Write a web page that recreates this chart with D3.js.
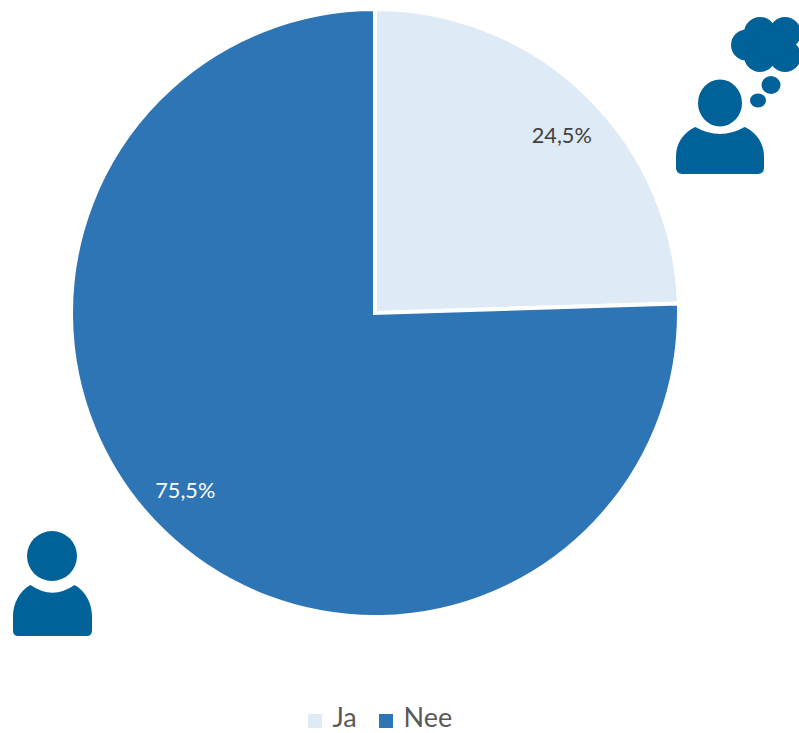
<!DOCTYPE html>
<html>
<head>
  <meta charset='utf-8'>
  <title>Ja / Nee</title>
  <script src="https://cdnjs.cloudflare.com/ajax/libs/d3/7.8.5/d3.min.js"></script>
  <style>
    html, body { margin: 0; padding: 0; background: #fff; }
    svg { display: block; }
    text { font-family: Lato, "Open Sans", sans-serif; }
  </style>
</head>
<body>
  <svg width="799" height="733" id="mySVG"></svg>
  <script>
    const categories = ['Ja', 'Nee'];
    const values = [24.5, 75.5];
    const labels = ['24,5%', '75,5%'];
    const colors = ['#DEEAF6', '#2E75B6'];
    const labelColors = ['#404040', '#ffffff'];

    const svg = d3.select('#mySVG');
    const cx = 375, cy = 313, radius = 304;
    const iconColor = '#006298';

    const pie = d3.pie().sort(null).value(d => d);
    const arc = d3.arc().innerRadius(0).outerRadius(radius);
    const slices = pie(values);

    const chart = svg.append('g').attr('transform', `translate(${cx},${cy})`);

    chart.selectAll('path')
      .data(slices)
      .join('path')
      .attr('d', arc)
      .attr('fill', (d, i) => colors[i])
      .attr('stroke', '#fff')
      .attr('stroke-width', 4)
      .attr('stroke-linejoin', 'miter');

    // labels sit a bit past the middle of the slice
    chart.selectAll('text')
      .data(slices)
      .join('text')
      .attr('transform', d => {
        const mid = (d.startAngle + d.endAngle) / 2 + 0.044;
        const p = d3.pointRadial(mid, 259);
        return `translate(${p[0] - 1.5},${p[1]})`;
      })
      .attr('text-anchor', 'middle')
      .attr('dy', '0.35em')
      .attr('font-size', 21.7)
      .attr('fill', (d, i) => labelColors[i])
      .text((d, i) => labels[i]);

    // legend
    const legendX = [308, 379];
    const legend = svg.append('g');
    legend.selectAll('rect')
      .data(categories)
      .join('rect')
      .attr('x', (d, i) => legendX[i])
      .attr('y', 714)
      .attr('width', 14)
      .attr('height', 14)
      .attr('fill', (d, i) => colors[i]);
    legend.selectAll('text')
      .data(categories)
      .join('text')
      .attr('x', (d, i) => legendX[i] + 24.5)
      .attr('y', 727)
      .attr('font-size', 27)
      .attr('fill', '#595959')
      .text(d => d);

    // person icon, x0..x1 is the body width, y0..y1 the body height
    function person(g, x0, x1, y0, y1) {
      const w = x1 - x0, h = y1 - y0, mx = (x0 + x1) / 2, r = w * 0.07;
      const path = d3.path();
      path.moveTo(mx - w * 0.28, y0);
      path.quadraticCurveTo(mx, y0 + h * 0.3, mx + w * 0.28, y0);
      path.bezierCurveTo(mx + w * 0.42, y0 + h * 0.12, x1, y0 + h * 0.36, x1, y0 + h * 0.62);
      path.lineTo(x1, y1 - r);
      path.quadraticCurveTo(x1, y1, x1 - r, y1);
      path.lineTo(x0 + r, y1);
      path.quadraticCurveTo(x0, y1, x0, y1 - r);
      path.lineTo(x0, y0 + h * 0.62);
      path.bezierCurveTo(x0, y0 + h * 0.36, mx - w * 0.42, y0 + h * 0.12, mx - w * 0.28, y0);
      path.closePath();
      g.append('path').attr('d', path.toString()).attr('fill', iconColor);
    }

    const icons = svg.append('g').attr('fill', iconColor);

    // bottom left person
    icons.append('circle').attr('cx', 52).attr('cy', 556).attr('r', 25);
    person(icons, 13, 92, 585, 636);

    // top right person with thought cloud
    icons.append('ellipse').attr('cx', 720).attr('cy', 103).attr('rx', 22).attr('ry', 23.5);
    person(icons, 676, 764, 127, 174);

    const cloud = [[746.5, 45, 15.5], [760, 33, 16], [785, 33, 16], [760, 56, 16], [785, 56, 16], [772, 45, 18]];
    icons.selectAll('circle.cloud')
      .data(cloud)
      .join('circle')
      .attr('class', 'cloud')
      .attr('cx', d => d[0])
      .attr('cy', d => d[1])
      .attr('r', d => d[2]);
    icons.append('ellipse').attr('cx', 771).attr('cy', 85).attr('rx', 9.5).attr('ry', 9);
    icons.append('ellipse').attr('cx', 758).attr('cy', 100.5).attr('rx', 8).attr('ry', 7);
  </script>
</body>
</html>
